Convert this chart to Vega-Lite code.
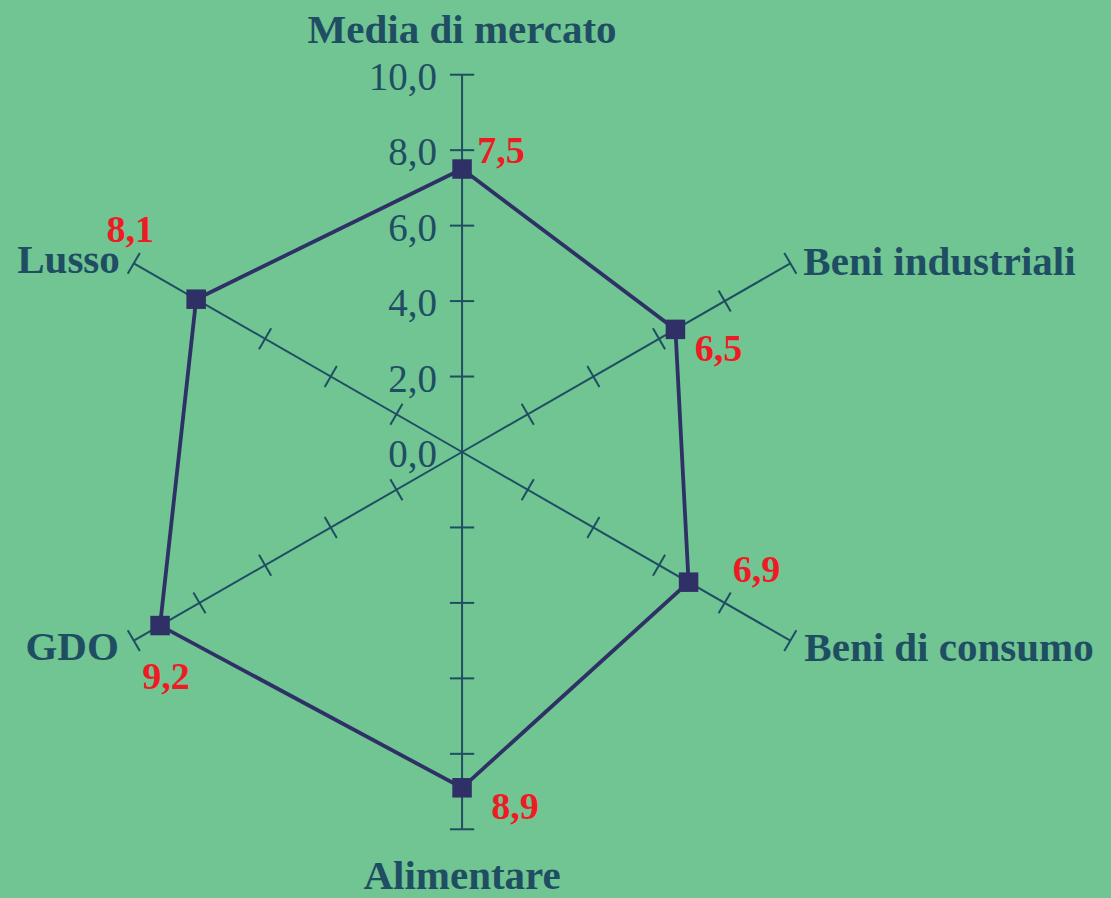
{
  "$schema": "https://vega.github.io/schema/vega-lite/v6.json",
  "width": 1111,
  "height": 898,
  "autosize": {"type": "fit", "contains": "padding"},
  "padding": 0,
  "background": "#70C593",
  "config": {
    "view": {"stroke": null},
    "text": {"font": "Liberation Serif"},
    "locale": {"number": {"decimal": ",", "thousands": ".", "grouping": [3], "currency": ["", " €"]}}
  },
  "datasets": {
    "scores": [
      {"cat": "Media di mercato", "v": 7.5, "i": 0},
      {"cat": "Beni industriali", "v": 6.5, "i": 1},
      {"cat": "Beni di consumo", "v": 6.9, "i": 2},
      {"cat": "Alimentare", "v": 8.9, "i": 3},
      {"cat": "GDO", "v": 9.2, "i": 4},
      {"cat": "Lusso", "v": 8.1, "i": 5}
    ],
    "ticks": [
      {"i": 0, "t": 2}, {"i": 0, "t": 4}, {"i": 0, "t": 6}, {"i": 0, "t": 8}, {"i": 0, "t": 10},
      {"i": 1, "t": 2}, {"i": 1, "t": 4}, {"i": 1, "t": 6}, {"i": 1, "t": 8}, {"i": 1, "t": 10},
      {"i": 2, "t": 2}, {"i": 2, "t": 4}, {"i": 2, "t": 6}, {"i": 2, "t": 8}, {"i": 2, "t": 10},
      {"i": 3, "t": 2}, {"i": 3, "t": 4}, {"i": 3, "t": 6}, {"i": 3, "t": 8}, {"i": 3, "t": 10},
      {"i": 4, "t": 2}, {"i": 4, "t": 4}, {"i": 4, "t": 6}, {"i": 4, "t": 8}, {"i": 4, "t": 10},
      {"i": 5, "t": 2}, {"i": 5, "t": 4}, {"i": 5, "t": 6}, {"i": 5, "t": 8}, {"i": 5, "t": 10}
    ],
    "scale": [{"t": 0}, {"t": 2}, {"t": 4}, {"t": 6}, {"t": 8}, {"t": 10}]
  },
  "encoding": {
    "x": {"field": "px", "type": "quantitative", "scale": {"domain": [-12.19, 17.12], "nice": false, "zero": false}, "axis": null},
    "y": {"field": "py", "type": "quantitative", "scale": {"domain": [-11.715, 11.98], "nice": false, "zero": false}, "axis": null}
  },
  "layer": [
    {
      "data": {"name": "scores"},
      "transform": [
        {"calculate": "10*sin(datum.i*PI/3)", "as": "px"},
        {"calculate": "10*cos(datum.i*PI/3)", "as": "py"}
      ],
      "mark": {"type": "rule", "color": "#1F4E63", "strokeWidth": 2},
      "encoding": {"x2": {"datum": 0}, "y2": {"datum": 0}}
    },
    {
      "data": {"name": "ticks"},
      "transform": [
        {"calculate": "datum.i*PI/3", "as": "a"},
        {"calculate": "datum.t*sin(datum.a) - 0.32*cos(datum.a)", "as": "px"},
        {"calculate": "datum.t*cos(datum.a) + 0.32*sin(datum.a)", "as": "py"},
        {"calculate": "datum.t*sin(datum.a) + 0.32*cos(datum.a)", "as": "qx"},
        {"calculate": "datum.t*cos(datum.a) - 0.32*sin(datum.a)", "as": "qy"}
      ],
      "mark": {"type": "rule", "color": "#1F4E63", "strokeWidth": 2},
      "encoding": {"x2": {"field": "qx"}, "y2": {"field": "qy"}}
    },
    {
      "data": {"name": "scale"},
      "transform": [
        {"calculate": "0", "as": "px"},
        {"calculate": "datum.t", "as": "py"}
      ],
      "mark": {"type": "text", "align": "right", "baseline": "middle", "dx": -25, "dy": 3, "fontSize": 39, "color": "#1F4E63"},
      "encoding": {"text": {"field": "t", "type": "quantitative", "format": ".1f"}}
    },
    {
      "data": {"name": "scores"},
      "transform": [
        {"calculate": "datum.v*sin(datum.i*PI/3)", "as": "px"},
        {"calculate": "datum.v*cos(datum.i*PI/3)", "as": "py"}
      ],
      "mark": {"type": "line", "interpolate": "linear-closed", "color": "#2E3066", "strokeWidth": 3.8},
      "encoding": {"order": {"field": "i", "type": "quantitative"}}
    },
    {
      "data": {"name": "scores"},
      "transform": [
        {"calculate": "datum.v*sin(datum.i*PI/3)", "as": "px"},
        {"calculate": "datum.v*cos(datum.i*PI/3)", "as": "py"}
      ],
      "mark": {"type": "square", "size": 380, "filled": true, "opacity": 1, "color": "#2E3066"},
      "encoding": {}
    },
    {
      "data": {"name": "scores"},
      "transform": [
        {"filter": "datum.i == 0 || datum.i == 3"},
        {"calculate": "11.22*sin(datum.i*PI/3)", "as": "px"},
        {"calculate": "11.22*cos(datum.i*PI/3)", "as": "py"}
      ],
      "mark": {"type": "text", "align": "center", "baseline": "middle", "dy": 2, "fontSize": 41, "fontWeight": "bold", "color": "#1F4E63"},
      "encoding": {"text": {"field": "cat"}}
    },
    {
      "data": {"name": "scores"},
      "transform": [
        {"filter": "datum.i == 1"},
        {"calculate": "10*sin(datum.i*PI/3)", "as": "px"},
        {"calculate": "10*cos(datum.i*PI/3)", "as": "py"}
      ],
      "mark": {"type": "text", "align": "left", "baseline": "middle", "dx": 13, "dy": 0, "fontSize": 41, "fontWeight": "bold", "color": "#1F4E63"},
      "encoding": {"text": {"field": "cat"}}
    },
    {
      "data": {"name": "scores"},
      "transform": [
        {"filter": "datum.i == 2"},
        {"calculate": "10*sin(datum.i*PI/3)", "as": "px"},
        {"calculate": "10*cos(datum.i*PI/3)", "as": "py"}
      ],
      "mark": {"type": "text", "align": "left", "baseline": "middle", "dx": 14, "dy": 8, "fontSize": 41, "fontWeight": "bold", "color": "#1F4E63"},
      "encoding": {"text": {"field": "cat"}}
    },
    {
      "data": {"name": "scores"},
      "transform": [
        {"filter": "datum.i == 5"},
        {"calculate": "10*sin(datum.i*PI/3)", "as": "px"},
        {"calculate": "10*cos(datum.i*PI/3)", "as": "py"}
      ],
      "mark": {"type": "text", "align": "right", "baseline": "middle", "dx": -14, "dy": -2, "fontSize": 41, "fontWeight": "bold", "color": "#1F4E63"},
      "encoding": {"text": {"field": "cat"}}
    },
    {
      "data": {"name": "scores"},
      "transform": [
        {"filter": "datum.i == 4"},
        {"calculate": "10*sin(datum.i*PI/3)", "as": "px"},
        {"calculate": "10*cos(datum.i*PI/3)", "as": "py"}
      ],
      "mark": {"type": "text", "align": "right", "baseline": "middle", "dx": -15, "dy": 7, "fontSize": 41, "fontWeight": "bold", "color": "#1F4E63"},
      "encoding": {"text": {"field": "cat"}}
    },
    {
      "data": {"name": "scores"},
      "transform": [
        {"filter": "datum.i == 0"},
        {"calculate": "datum.v*sin(datum.i*PI/3)", "as": "px"},
        {"calculate": "datum.v*cos(datum.i*PI/3)", "as": "py"}
      ],
      "mark": {"type": "text", "align": "center", "baseline": "middle", "dx": 39, "dy": -17, "fontSize": 38, "fontWeight": "bold", "color": "#ED1C24"},
      "encoding": {"text": {"field": "v", "type": "quantitative", "format": ".1f"}}
    },
    {
      "data": {"name": "scores"},
      "transform": [
        {"filter": "datum.i == 1"},
        {"calculate": "datum.v*sin(datum.i*PI/3)", "as": "px"},
        {"calculate": "datum.v*cos(datum.i*PI/3)", "as": "py"}
      ],
      "mark": {"type": "text", "align": "center", "baseline": "middle", "dx": 43, "dy": 21, "fontSize": 38, "fontWeight": "bold", "color": "#ED1C24"},
      "encoding": {"text": {"field": "v", "type": "quantitative", "format": ".1f"}}
    },
    {
      "data": {"name": "scores"},
      "transform": [
        {"filter": "datum.i == 2"},
        {"calculate": "datum.v*sin(datum.i*PI/3)", "as": "px"},
        {"calculate": "datum.v*cos(datum.i*PI/3)", "as": "py"}
      ],
      "mark": {"type": "text", "align": "center", "baseline": "middle", "dx": 68, "dy": -11, "fontSize": 38, "fontWeight": "bold", "color": "#ED1C24"},
      "encoding": {"text": {"field": "v", "type": "quantitative", "format": ".1f"}}
    },
    {
      "data": {"name": "scores"},
      "transform": [
        {"filter": "datum.i == 3"},
        {"calculate": "datum.v*sin(datum.i*PI/3)", "as": "px"},
        {"calculate": "datum.v*cos(datum.i*PI/3)", "as": "py"}
      ],
      "mark": {"type": "text", "align": "center", "baseline": "middle", "dx": 53, "dy": 20, "fontSize": 38, "fontWeight": "bold", "color": "#ED1C24"},
      "encoding": {"text": {"field": "v", "type": "quantitative", "format": ".1f"}}
    },
    {
      "data": {"name": "scores"},
      "transform": [
        {"filter": "datum.i == 4"},
        {"calculate": "datum.v*sin(datum.i*PI/3)", "as": "px"},
        {"calculate": "datum.v*cos(datum.i*PI/3)", "as": "py"}
      ],
      "mark": {"type": "text", "align": "center", "baseline": "middle", "dx": 6, "dy": 52, "fontSize": 38, "fontWeight": "bold", "color": "#ED1C24"},
      "encoding": {"text": {"field": "v", "type": "quantitative", "format": ".1f"}}
    },
    {
      "data": {"name": "scores"},
      "transform": [
        {"filter": "datum.i == 5"},
        {"calculate": "datum.v*sin(datum.i*PI/3)", "as": "px"},
        {"calculate": "datum.v*cos(datum.i*PI/3)", "as": "py"}
      ],
      "mark": {"type": "text", "align": "center", "baseline": "middle", "dx": -66, "dy": -68, "fontSize": 38, "fontWeight": "bold", "color": "#ED1C24"},
      "encoding": {"text": {"field": "v", "type": "quantitative", "format": ".1f"}}
    }
  ]
}
